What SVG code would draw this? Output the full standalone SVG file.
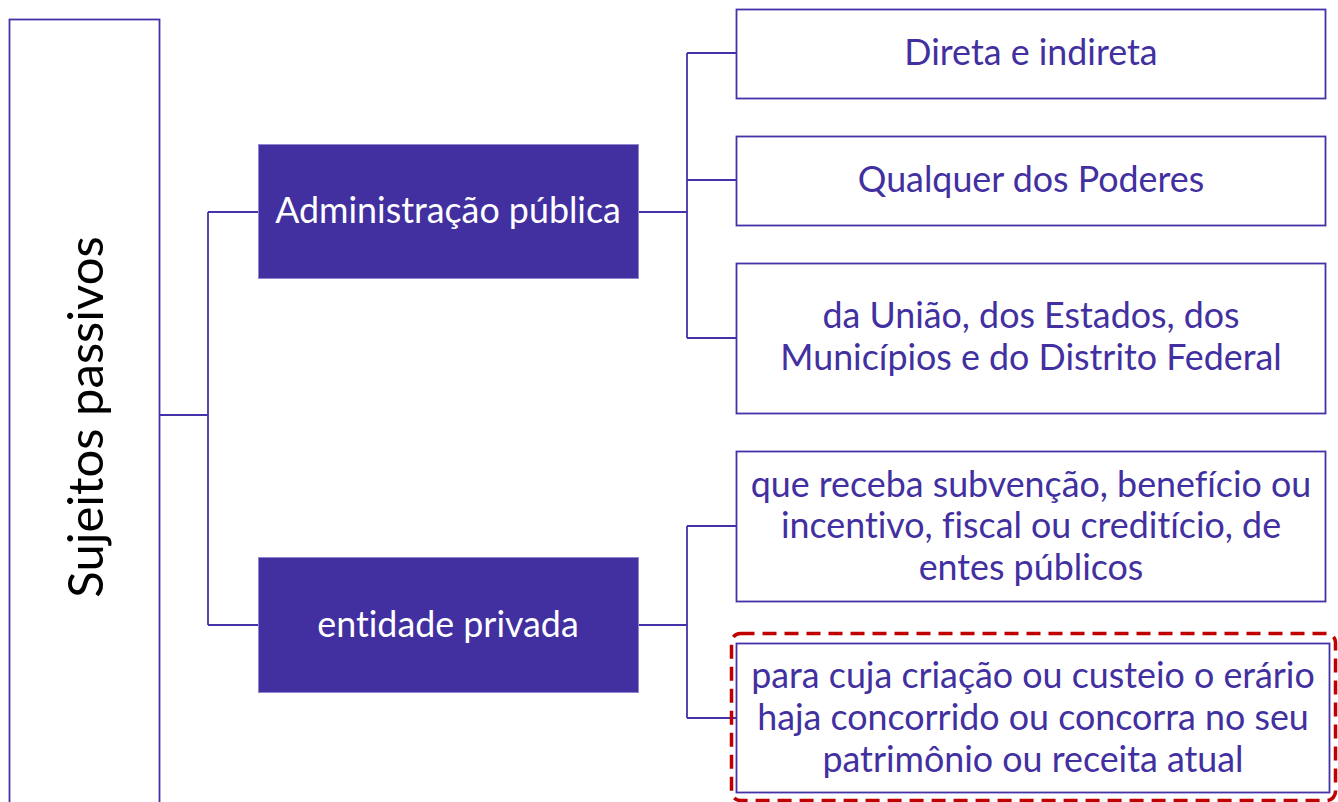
<svg xmlns="http://www.w3.org/2000/svg" width="1338" height="802" viewBox="0 0 1338 802">
<style>
.box{fill:#fff;stroke:#4433a8;stroke-width:1.8}
.dark{fill:#4230a0;stroke:#8f86d0;stroke-width:1}
.t,.w{font-family:Lato,"Noto Sans",sans-serif;font-size:35.8px;text-anchor:middle;dominant-baseline:central;font-variant-ligatures:none}
.t{fill:#4230a0}
.w{fill:#fff}
.c{fill:none;stroke:#4433a8;stroke-width:1.8}
</style>
<rect width="1338" height="802" fill="#fff"/>
<g id="connectors">
<path class="c" d="M160 415H208M208 212V625M208 212H258M208 625H258"/>
<path class="c" d="M638 212H687M687 53V338M687 53H736M687 180H736M687 338H736"/>
<path class="c" d="M638 625H687M687 526V718M687 526H736M687 718H736"/>
</g>
<g id="root">
<rect class="box" x="9.5" y="19.5" width="150" height="800"/>
<text transform="translate(84 417) rotate(-90)" style="font-family:Lato,'Noto Sans',sans-serif;font-size:49px;fill:#000;text-anchor:middle;dominant-baseline:central">Sujeitos passivos</text>
</g>
<g id="admin">
<rect class="dark" x="258.5" y="144.5" width="380" height="134"/>
<text class="w" x="448" y="209">Administração pública</text>
</g>
<g id="privada">
<rect class="dark" x="258.5" y="557.5" width="380" height="135"/>
<text class="w" x="448" y="623">entidade privada</text>
</g>
<g id="direta">
<rect class="box" x="736.5" y="9.5" width="589" height="89"/>
<text class="t" x="1031" y="51">Direta e indireta</text>
</g>
<g id="poderes">
<rect class="box" x="736.5" y="136.5" width="589" height="89"/>
<text class="t" x="1031" y="178">Qualquer dos Poderes</text>
</g>
<g id="uniao">
<rect class="box" x="736.5" y="263.5" width="589" height="150"/>
<text class="t" x="1031" y="314">da União, dos Estados, dos</text>
<text class="t" x="1031" y="356">Municípios e do Distrito Federal</text>
</g>
<g id="subvencao">
<rect class="box" x="736.5" y="451.5" width="589" height="150"/>
<text class="t" x="1031" y="483">que receba subvenção, benefício ou</text>
<text class="t" x="1031" y="524">incentivo, fiscal ou creditício, de</text>
<text class="t" x="1031" y="566">entes públicos</text>
</g>
<g id="custeio">
<rect x="731.5" y="633.5" width="604" height="167" rx="9" fill="none" stroke="#c00000" stroke-width="3.5" stroke-dasharray="14 8"/>
<rect class="box" x="736.5" y="643.5" width="593" height="149"/>
<text class="t" x="1033" y="674">para cuja criação ou custeio o erário</text>
<text class="t" x="1033" y="716">haja concorrido ou concorra no seu</text>
<text class="t" x="1033" y="758">patrimônio ou receita atual</text>
</g>
</svg>
